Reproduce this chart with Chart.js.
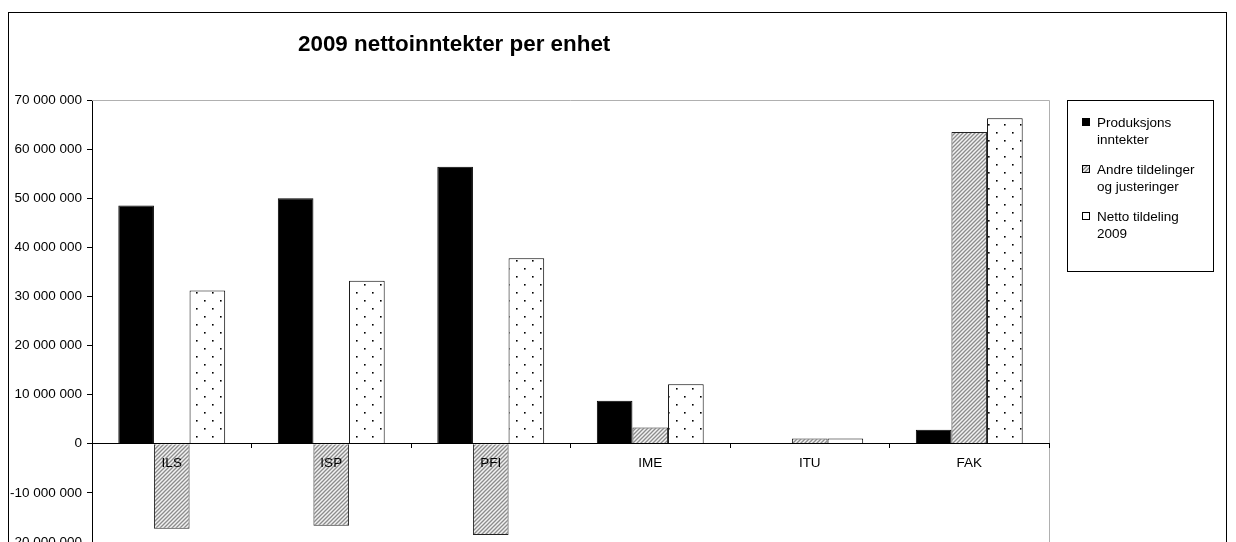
<!DOCTYPE html>
<html>
<head>
<meta charset="utf-8">
<script src="https://cdn.jsdelivr.net/npm/chart.js@4"></script>
<style>
  html, body { margin:0; padding:0; background:#fff; overflow:hidden; width:1236px; height:542px; }
  #wrap { position:absolute; left:0; top:0; width:1236px; height:560px; }
  #frame { position:absolute; left:8px; top:12px; width:1219px; height:600px; border:1px solid #000; box-sizing:border-box; pointer-events:none; }
  #title { position:absolute; left:298px; top:31px; font:bold 22.4px "Liberation Sans", Arial, sans-serif; color:#000; white-space:nowrap; }
  #legend { position:absolute; left:1067px; top:100px; width:147px; height:172px; border:1px solid #000; box-sizing:border-box; background:#fff;
            font:13.5px "Liberation Sans", Arial, sans-serif; color:#000; }
  .item { position:absolute; left:29px; line-height:17px; }
  .mark { position:absolute; left:-15px; top:4px; width:8px; height:8px; box-sizing:border-box; border:1px solid #000; }
</style>
</head>
<body>
<div id="wrap"><canvas id="c" width="1236" height="560"></canvas></div>
<div id="frame"></div>
<div id="title">2009 nettoinntekter per enhet</div>
<div id="legend">
  <div class="item" style="top:13px"><span class="mark" style="background:#000"></span>Produksjons<br>inntekter</div>
  <div class="item" style="top:60px"><span class="mark" id="m2"></span>Andre tildelinger<br>og justeringer</div>
  <div class="item" style="top:107px"><span class="mark" style="background:#fff"></span>Netto tildeling<br>2009</div>
</div>
<script>
const categories = ["ILS", "ISP", "PFI", "IME", "ITU", "FAK"];
const seriesNames = ["Produksjons inntekter", "Andre tildelinger og justeringer", "Netto tildeling 2009"];
const produksjonsInntekter = [48500000, 50000000, 56400000, 8750000, 0, 2850000];
const andreTildelinger = [-17300000, -16700000, -18600000, 3300000, 1100000, 63500000];
const nettoTildeling = [31200000, 33200000, 37800000, 12100000, 1100000, 66300000];
const yMin = -20000000, yMax = 70000000, yStep = 10000000;

function fmt(v) {
  const s = Math.abs(v).toString().replace(/\B(?=(\d{3})+(?!\d))/g, ' ');
  return (v < 0 ? '-' : '') + s;
}

function hatchPattern() {
  const c = document.createElement('canvas'); c.width = 4; c.height = 4;
  const x = c.getContext('2d');
  x.fillStyle = '#f2f2f2'; x.fillRect(0, 0, 4, 4);
  x.strokeStyle = '#8c8c8c'; x.lineWidth = 1.3;
  x.beginPath();
  x.moveTo(-1, 5); x.lineTo(5, -1);
  x.moveTo(-1, 1); x.lineTo(1, -1);
  x.moveTo(3, 5); x.lineTo(5, 3);
  x.stroke();
  return c;
}
function dotPattern() {
  const c = document.createElement('canvas'); c.width = 16; c.height = 16;
  const x = c.getContext('2d');
  x.fillStyle = '#fff'; x.fillRect(0, 0, 16, 16);
  x.fillStyle = '#000';
  x.fillRect(4, 4, 1.6, 1.6);
  x.fillRect(12, 12, 1.6, 1.6);
  return c;
}
const hc = hatchPattern();
document.getElementById('m2').style.background = 'url(' + hc.toDataURL() + ')';

const ctx = document.getElementById('c').getContext('2d');
const hatch = ctx.createPattern(hc, 'repeat');
const dots = ctx.createPattern(dotPattern(), 'repeat');

const plotBorder = {
  id: 'plotBorder',
  beforeDatasetsDraw(chart) {
    const a = chart.chartArea, c = chart.ctx;
    c.save();
    c.strokeStyle = '#b0b0b0'; c.lineWidth = 1;
    c.beginPath();
    c.moveTo(a.left, a.top + 0.5); c.lineTo(a.right + 0.5, a.top + 0.5);
    c.lineTo(a.right + 0.5, a.bottom);
    c.stroke();
    c.restore();
  }
};

new Chart(ctx, {
  type: 'bar',
  data: {
    labels: categories,
    datasets: [
      { label: seriesNames[0], data: produksjonsInntekter, backgroundColor: '#000', borderColor: '#000', borderWidth: 1 },
      { label: seriesNames[1], data: andreTildelinger, backgroundColor: hatch, borderColor: '#222', borderWidth: 1 },
      { label: seriesNames[2], data: nettoTildeling, backgroundColor: dots, borderColor: '#000', borderWidth: 1 }
    ]
  },
  options: {
    responsive: false,
    animation: false,
    devicePixelRatio: 1,
    layout: { padding: { left: 0, top: 100, right: 187, bottom: 18 } },
    datasets: { bar: { categoryPercentage: 0.67, barPercentage: 1.0 } },
    plugins: { legend: { display: false }, title: { display: false }, tooltip: { enabled: false } },
    scales: {
      x: {
        position: { y: 0 },
        offset: true,
        grid: { display: true, offset: true, drawOnChartArea: false, drawTicks: true, tickLength: 4, color: '#000', z: 1 },
        border: { display: true, color: '#000', width: 1, z: 1 },
        ticks: { z: 2, color: '#000', padding: 7, font: { family: '"Liberation Sans", Arial, sans-serif', size: 13.5 }, maxRotation: 0 }
      },
      y: {
        min: yMin, max: yMax,
        afterFit(scale) { scale.width = 92; },
        grid: { display: true, drawOnChartArea: false, drawTicks: true, tickLength: 5, color: '#000' },
        border: { display: true, color: '#000', width: 1 },
        ticks: { stepSize: yStep, color: '#000', padding: 5, font: { family: '"Liberation Sans", Arial, sans-serif', size: 13.5 }, callback: v => fmt(v) }
      }
    }
  },
  plugins: [plotBorder]
});
</script>
</body>
</html>
